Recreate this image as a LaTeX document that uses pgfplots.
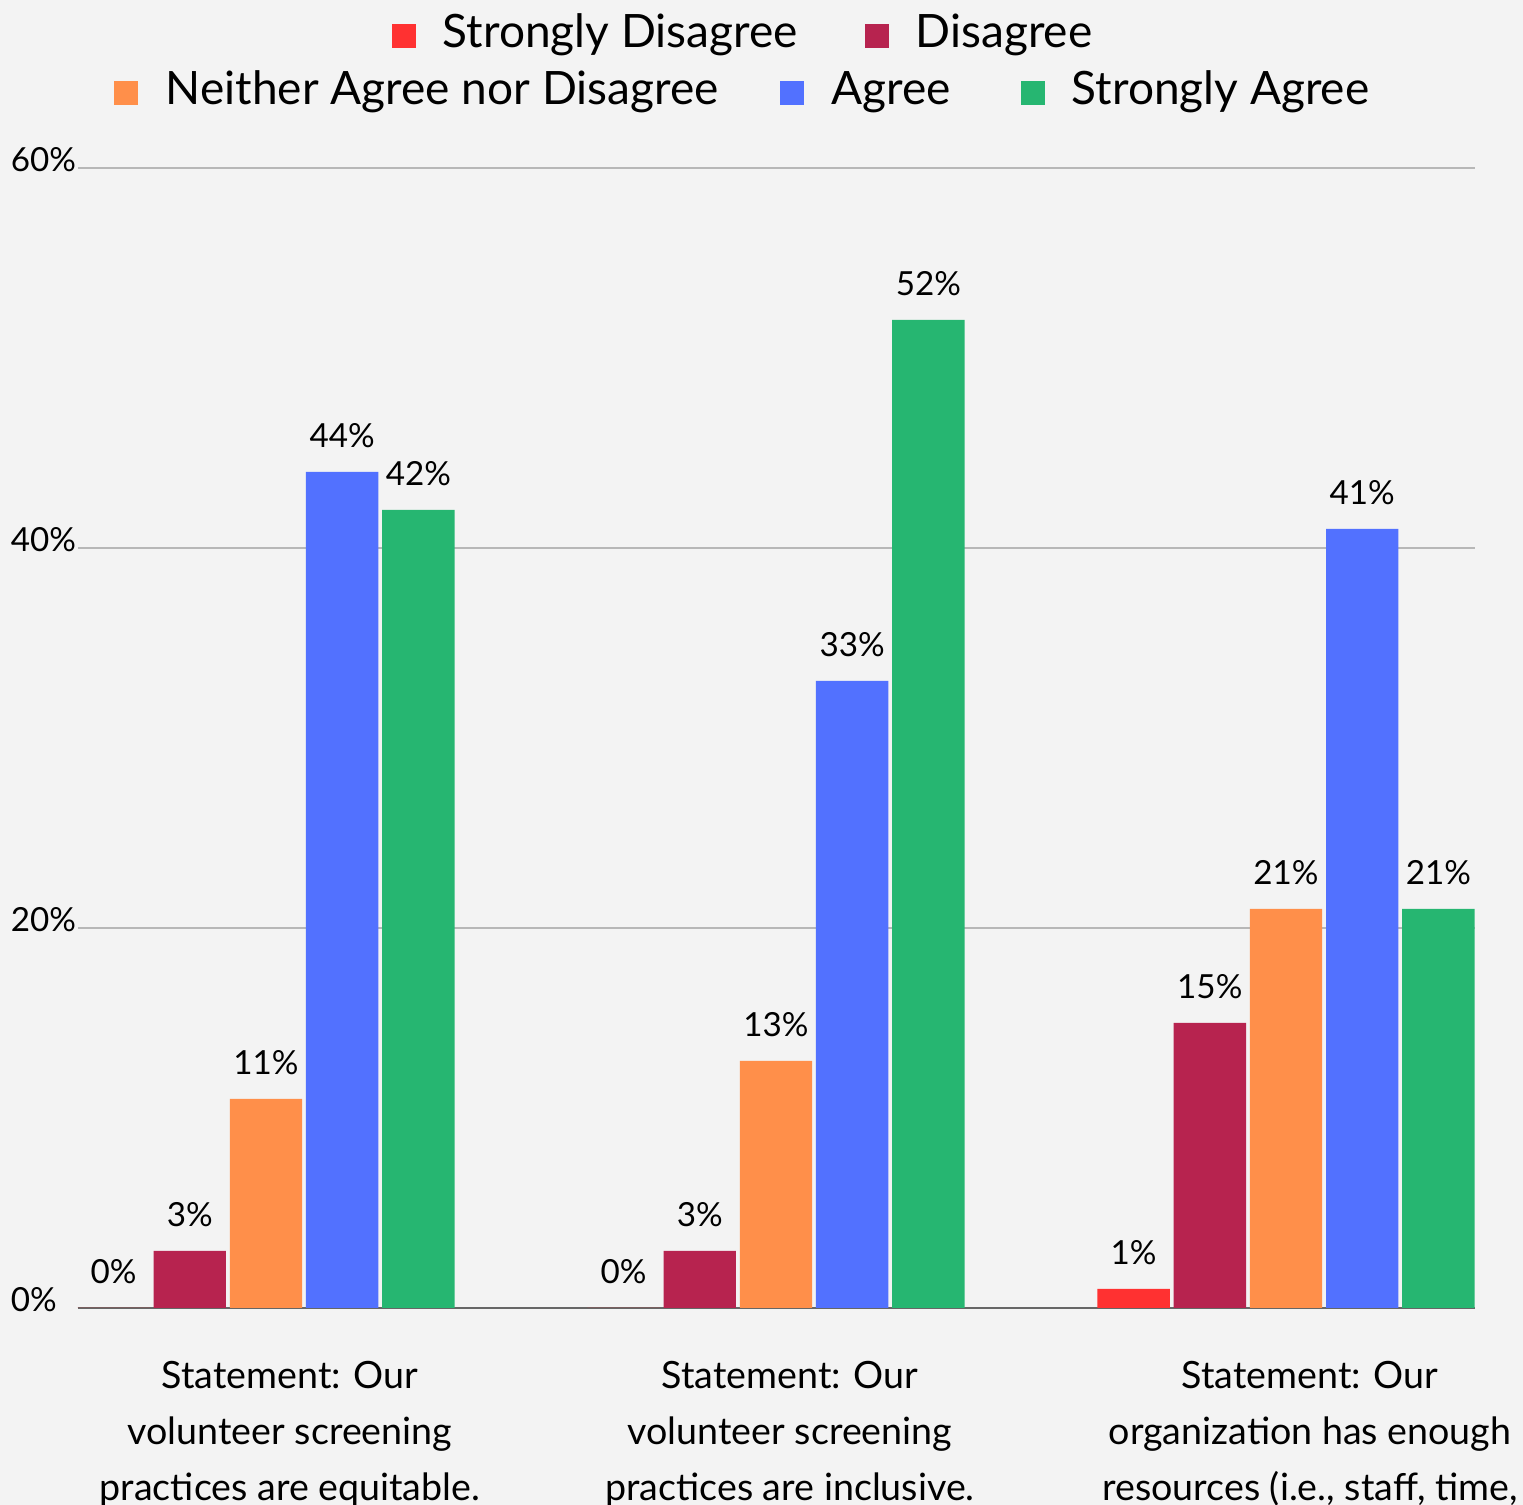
\documentclass[border=0pt]{standalone}
\usepackage{pgfplots}
\pgfplotsset{compat=1.18}
\usepackage{fontspec}
\setmainfont{Lato}

\definecolor{bg}{HTML}{F3F3F3}
\definecolor{gridc}{HTML}{B7B7B7}
\definecolor{basec}{HTML}{666666}
\definecolor{sdis}{HTML}{FF3131}
\definecolor{dis}{HTML}{B7234F}
\definecolor{neu}{HTML}{FF8F4A}
\definecolor{agr}{HTML}{5271FF}
\definecolor{sagr}{HTML}{26B671}

\begin{document}
\begin{tikzpicture}
\fill[bg] (-19.5pt,-49.25pt) rectangle (361.25pt,327pt);
\begin{axis}[
    at={(0,0)}, anchor=south west,
    width=349.25pt, height=285pt, scale only axis,
    xmin=-0.3686, xmax=2.3706, ymin=0, ymax=60,
    ybar, bar width=18.1pt,
    axis line style={draw=none},
    major tick length=0pt,
    xtick={0,1,2},
    xticklabels={
      {Statement: Our\\volunteer screening\\practices are equitable.},
      {\hspace*{-5pt}Statement: Our\\\hspace*{-5pt}volunteer screening\\\hspace*{-5pt}practices are inclusive.},
      {Statement: Our\\organization has enough\\resources (i.e., staff, time,}
    },
    xticklabel style={align=center, anchor=north, inner sep=0pt,
      font=\fontsize{9.4}{14}\selectfont, yshift=-13pt, xshift=6pt},
    ytick={20,40,60},
    extra y ticks={0},
    extra y tick style={grid=major, grid style={draw=basec, line width=0.6pt}},
    yticklabel={\pgfmathprintnumber{\tick}\%},
    yticklabel style={anchor=base west, inner sep=0pt, xshift=-17pt, yshift=-1pt,
      font=\fontsize{8.3}{10}\selectfont},
    /pgf/number format/assume math mode=true,
    ymajorgrids, grid style={draw=gridc, line width=0.5pt},
    nodes near coords={\pgfmathprintnumber{\pgfplotspointmeta}\%},
    every node near coord/.append style={anchor=base, inner sep=0pt, yshift=6pt,
      font=\fontsize{8.3}{10}\selectfont, text=black},
    clip=false,
]
\addplot[fill=sdis, draw=none, bar shift=-38.1pt] coordinates {(0,0) (1,0) (2,1)};
\addplot[fill=dis, draw=none, bar shift=-19.05pt] coordinates {(0,3) (1,3) (2,15)};
\addplot[fill=neu, draw=none, bar shift=0pt] coordinates {(0,11) (1,13) (2,21)};
\addplot[fill=agr, draw=none, bar shift=19.05pt] coordinates {(0,44) (1,33) (2,41)};
\addplot[fill=sagr, draw=none, bar shift=38.1pt] coordinates {(0,42) (1,52) (2,21)};
\end{axis}

% legend, laid out as in the reference (2 entries on top, 3 below)
\begin{scope}[every node/.style={anchor=base west, inner sep=0pt, font=\fontsize{11.5}{14}\selectfont}]
\fill[sdis] (78.5pt,315pt) rectangle ++(6pt,6pt);
\node at (91pt,315pt) {Strongly Disagree};
\fill[dis] (196.75pt,315pt) rectangle ++(6pt,6pt);
\node at (209.25pt,315pt) {Disagree};
\fill[neu] (9pt,300.75pt) rectangle ++(6pt,6pt);
\node at (21.75pt,300.75pt) {Neither Agree nor Disagree};
\fill[agr] (175.5pt,300.75pt) rectangle ++(6pt,6pt);
\node at (188.25pt,300.75pt) {Agree};
\fill[sagr] (235.75pt,300.75pt) rectangle ++(6pt,6pt);
\node at (248.25pt,300.75pt) {Strongly Agree};
\end{scope}

\pgfresetboundingbox
\useasboundingbox (-19.5pt,-49.25pt) rectangle (361.25pt,327pt);
\end{tikzpicture}
\end{document}
